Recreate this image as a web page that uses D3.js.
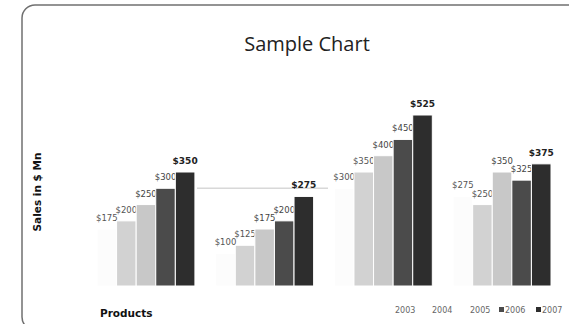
<!DOCTYPE html>
<html><head><meta charset="utf-8">
<script src="https://cdn.jsdelivr.net/npm/d3@7"></script>
<style>body{margin:0;background:#fff}svg{display:block}</style>
</head><body>
<script>
const groups = ["G1","G2","G3","G4"];
const years = ["2003","2004","2005","2006","2007"];
const s2003 = [175,100,300,275];
const s2004 = [200,125,350,250];
const s2005 = [250,175,400,350];
const s2006 = [300,200,450,325];
const s2007 = [350,275,525,375];
const series = [s2003,s2004,s2005,s2006,s2007];
const colors = ["#fcfcfc","#d2d2d2","#c8c8c8","#4b4b4b","#2d2d2d"];
const legendColors = ["#fff","#fff","#fff","#4b4b4b","#2d2d2d"];
const labelColors = ["#555","#555","#444","#444","#222"];

const W=569,H=324;
const svg=d3.select("body").append("svg").attr("width",W).attr("height",H);

svg.append("rect").attr("x",22).attr("y",5).attr("width",640).attr("height",325)
  .attr("rx",13).attr("fill","#fff").attr("stroke","#707070").attr("stroke-width",1.5);

svg.append("text").attr("x",307).attr("y",51).attr("text-anchor","middle")
  .attr("font-family","'Open Sans', sans-serif").attr("font-size",20).attr("fill","#222")
  .text("Sample Chart");

const x0=d3.scaleBand().domain(groups).range([97,551]).paddingInner(0.175);
const x1=d3.scaleBand().domain(years).range([0,x0.bandwidth()]);
const y=d3.scaleLinear().domain([0,525]).range([286,115]);

svg.append("line").attr("x1",197).attr("x2",328).attr("y1",y(300)).attr("y2",y(300))
  .attr("stroke","#d8d8d8").attr("stroke-width",1.5);

const g=svg.append("g");
groups.forEach((grp,gi)=>{
  years.forEach((yr,si)=>{
    const v=series[si][gi];
    g.append("rect").attr("x",x0(grp)+x1(yr)).attr("y",y(v))
      .attr("width",x1.bandwidth()).attr("height",y(0)-y(v))
      .attr("fill",colors[si]).attr("stroke","#fff").attr("stroke-width",1);
    g.append("text").attr("x",x0(grp)+x1(yr)+x1.bandwidth()/2).attr("y",y(v)-8)
      .attr("text-anchor","middle").attr("font-family","'DejaVu Sans', sans-serif")
      .attr("font-size",si===4?9:8.5).attr("font-weight",si===4?"bold":"normal")
      .attr("fill",labelColors[si]).text("$"+v);
  });
});

svg.append("text").attr("transform","translate(41,192) rotate(-90)").attr("text-anchor","middle")
  .attr("font-family","'DejaVu Sans', sans-serif").attr("font-weight","bold").attr("font-size",10.5)
  .attr("fill","#111").text("Sales in $ Mn");

svg.append("text").attr("x",100).attr("y",317)
  .attr("font-family","'DejaVu Sans', sans-serif").attr("font-weight","bold").attr("font-size",10.5)
  .attr("fill","#111").text("Products");

const legX=[389,426,464,499,536];
years.forEach((yr,i)=>{
  const lg=svg.append("g").attr("transform",`translate(${legX[i]},313)`);
  lg.append("rect").attr("x",0).attr("y",-6).attr("width",5).attr("height",5).attr("fill",legendColors[i]);
  lg.append("text").attr("x",6).attr("y",0).attr("font-family","'DejaVu Sans', sans-serif")
    .attr("font-size",8).attr("fill","#666").text(yr);
});
</script>
</body></html>
